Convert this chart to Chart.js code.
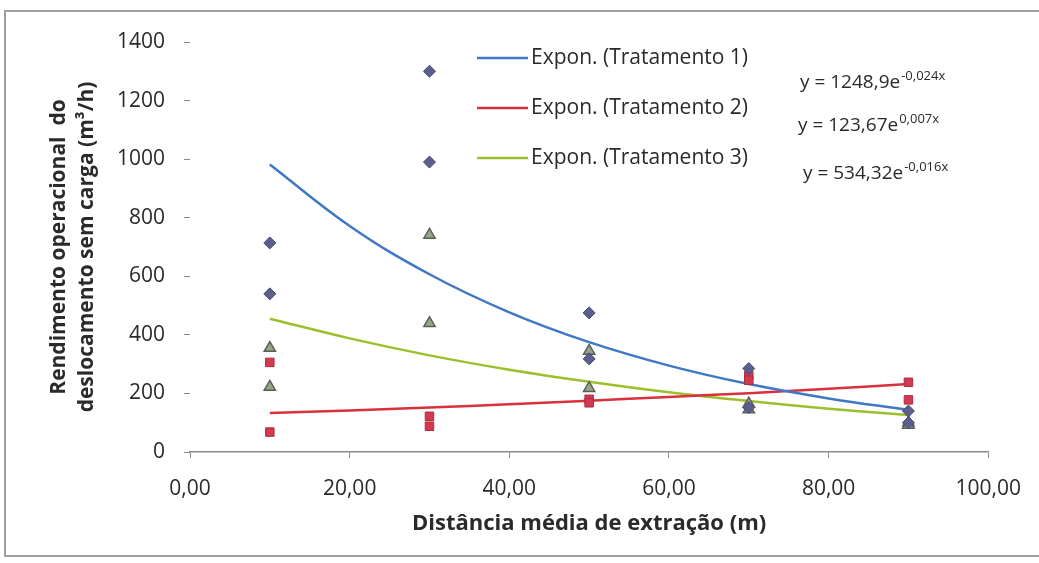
<!DOCTYPE html>
<html>
<head>
<meta charset="utf-8">
<script src="https://cdn.jsdelivr.net/npm/chart.js@4.4.1/dist/chart.umd.min.js"></script>
<style>
  html, body { margin: 0; padding: 0; background: #fff; }
  #wrap { width: 1039px; height: 563px; }
</style>
</head>
<body>
<div id="wrap"><canvas id="chart" width="1039" height="563"></canvas></div>
<script>
const t1Dist = [10, 10, 30, 30, 50, 50, 70, 70, 90, 90];
const t1Values = [714, 540, 1300, 990, 475, 318, 285, 152, 140, 100];
const t2Dist = [10, 10, 30, 30, 50, 50, 70, 70, 90, 90];
const t2Values = [306, 68, 122, 88, 180, 168, 260, 245, 238, 178];
const t3Dist = [10, 10, 30, 30, 50, 50, 70, 70, 90, 90];
const t3Values = [355, 222, 741, 440, 345, 218, 165, 145, 100, 92];

// exponential trend lines, read at every 10 m
const trendDist = [10, 20, 30, 40, 50, 60, 70, 80, 90];
const trend1 = [982, 772, 607, 477, 375, 295, 232, 183, 144];
const trend2 = [133, 142, 152, 163, 175, 188, 201, 216, 232];
const trend3 = [455, 388, 330, 281, 240, 204, 174, 148, 126];

const trendLabels = ["Expon. (Tratamento 1)", "Expon. (Tratamento 2)", "Expon. (Tratamento 3)"];
const equations = [
  ["y = 1248,9e", "-0,024x"],
  ["y = 123,67e", "0,007x"],
  ["y = 534,32e", "-0,016x"],
];
const trendColors = ["#3f78c4", "#d8303c", "#9cbf2c"];

const FONT = "'Open Sans', Lato, sans-serif";

const pts = (xs, ys) => xs.map((x, i) => ({ x: x, y: ys[i] }));

const trendSet = (label, ys, color) => ({
  type: "line",
  label: label,
  data: pts(trendDist, ys),
  borderColor: color,
  borderWidth: 2.5,
  pointRadius: 0,
  tension: 0.4,
  fill: false,
});

const overlay = {
  id: "overlay",
  beforeDraw(chart) {
    const ctx = chart.ctx;
    ctx.save();
    ctx.strokeStyle = "#a0a0a0";
    ctx.lineWidth = 2;
    ctx.strokeRect(5, 11, 1045, 545);
    ctx.restore();
  },
  afterDraw(chart) {
    const ctx = chart.ctx;
    ctx.save();
    // legend (trend lines only)
    trendLabels.forEach((lab, i) => {
      const y = 58 + i * 50;
      ctx.strokeStyle = trendColors[i];
      ctx.lineWidth = 2.5;
      ctx.beginPath();
      ctx.moveTo(477, y);
      ctx.lineTo(528, y);
      ctx.stroke();
      ctx.fillStyle = "#2a2a2a";
      ctx.font = "21px " + FONT;
      ctx.textBaseline = "middle";
      ctx.fillText(lab, 531, y);
    });
    // equations
    const eqPos = [[800, 83], [798, 126], [803, 174]];
    equations.forEach((eq, i) => {
      const [x, y] = eqPos[i];
      ctx.fillStyle = "#2a2a2a";
      ctx.textBaseline = "middle";
      ctx.font = "19px " + FONT;
      ctx.fillText(eq[0], x, y);
      const w = ctx.measureText(eq[0]).width;
      ctx.font = "13px " + FONT;
      ctx.fillText(eq[1], x + w + 1, y - 7);
    });
    ctx.restore();
  },
};

const config = {
  type: "scatter",
  data: {
    datasets: [
      {
        label: "Tratamento 1",
        data: pts(t1Dist, t1Values),
        pointStyle: "rectRot",
        pointRadius: 6,
        backgroundColor: "#5a5f8e",
        borderColor: "#45486e",
        borderWidth: 1,
      },
      {
        label: "Tratamento 2",
        data: pts(t2Dist, t2Values),
        pointStyle: "rect",
        pointRadius: 6,
        backgroundColor: "#d23a50",
        borderColor: "#b02a40",
        borderWidth: 1,
      },
      {
        label: "Tratamento 3",
        data: pts(t3Dist, t3Values),
        pointStyle: "triangle",
        pointRadius: 6.5,
        backgroundColor: "#98a488",
        borderColor: "#5a5f55",
        borderWidth: 1.5,
      },
      trendSet(trendLabels[0], trend1, trendColors[0]),
      trendSet(trendLabels[1], trend2, trendColors[1]),
      trendSet(trendLabels[2], trend3, trendColors[2]),
    ],
  },
  options: {
    responsive: false,
    animation: false,
    layout: { padding: { top: 42, right: 49, bottom: 0, left: 0 } },
    plugins: {
      legend: { display: false },
      tooltip: { enabled: false },
    },
    scales: {
      x: {
        type: "linear",
        min: 0,
        max: 100,
        afterFit: (scale) => { scale.height = 111; },
        ticks: {
          stepSize: 20,
          padding: 18,
          color: "#2a2a2a",
          font: { family: FONT, size: 21 },
          callback: (v) => v.toFixed(2).replace(".", ","),
        },
        grid: {
          drawOnChartArea: false,
          tickLength: 6,
          tickColor: "#8a8a8a",
        },
        border: { color: "#8a8a8a", width: 1.5 },
        title: {
          display: true,
          text: "Distância média de extração (m)",
          color: "#2a2a2a",
          font: { family: FONT, size: 22, weight: "bold" },
          padding: { top: 0, bottom: 26 },
        },
      },
      y: {
        min: 0,
        max: 1400,
        afterFit: (scale) => { scale.width = 190; },
        ticks: {
          stepSize: 200,
          padding: 19,
          color: "#2a2a2a",
          font: { family: FONT, size: 21 },
          callback: (v) => String(v),
        },
        grid: {
          drawOnChartArea: false,
          tickLength: 6,
          tickColor: "#8a8a8a",
        },
        border: { display: false },
        title: {
          display: true,
          text: ["Rendimento operacional  do", "deslocamento sem carga (m³/h)"],
          color: "#2a2a2a",
          font: { family: FONT, size: 21, weight: "bold", lineHeight: "28px" },
          padding: { top: 45, bottom: 0 },
        },
      },
    },
  },
  plugins: [overlay],
};

const myChart = new Chart(document.querySelector("#chart").getContext("2d"), config);
</script>
</body>
</html>
